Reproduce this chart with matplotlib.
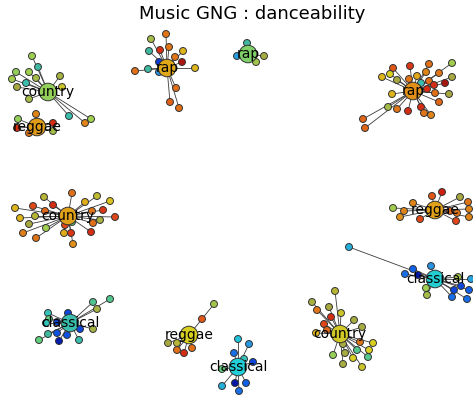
import matplotlib
matplotlib.use("Agg")
import matplotlib.pyplot as plt
from matplotlib.colors import LinearSegmentedColormap

# hub nodes of the growing neural gas, one per genre cluster
hub_labels = ["country", "reggae", "rap", "rap", "rap", "country",
              "reggae", "classical", "classical", "reggae", "classical", "country"]
hub_x = [48, 37, 167, 248, 413, 68, 435, 435, 70, 189, 238, 340]
hub_y = [92, 127, 68, 54, 91, 216, 210, 279, 323, 335, 367, 334]
hub_val = [0.55, 0.78, 0.76, 0.53, 0.80, 0.77, 0.77, 0.36, 0.42, 0.70, 0.35, 0.69]

# leaves: (x, y, danceability) and optional parent leaf index (default: hub)
country_top = [(32, 56, 0.56), (38, 67, 0.44), (16, 72, 0.55), (29, 72, 0.56), (12, 79, 0.57),
               (26, 83, 0.42), (36, 78, 0.60), (60, 76, 0.62), (17, 87, 0.64), (62, 87, 0.68),
               (29, 99, 0.60), (69, 116, 0.42), (85, 123, 0.82), (91, 119, 0.56)]
reggae_top = [(36, 114, 0.82), (18, 119, 0.55), (17, 128, 0.93), (29, 133, 0.84),
              (53, 123, 0.93), (53, 131, 0.60)]
rap_top = [(166, 34, 0.84), (151, 39, 0.60), (169, 47, 0.84), (149, 51, 0.44), (160, 50, 0.93),
           (183, 51, 0.74), (182, 62, 0.98), (175, 57, 0.84), (159, 62, 0.12), (159, 72, 0.25),
           (148, 69, 0.44), (135, 71, 0.85), (195, 68, 0.74), (176, 88, 0.85), (170, 102, 0.87),
           (179, 108, 0.85)]
rap_small = [(247, 43, 0.44), (237, 56, 0.27), (256, 62, 0.58), (264, 56, 0.63)]
rap_right = [(393, 68, 0.88), (410, 66, 0.92), (429, 64, 0.85), (452, 63, 0.57), (382, 77, 0.74),
             (390, 74, 0.70), (397, 80, 0.64), (409, 79, 0.84), (417, 76, 0.76), (426, 72, 0.82),
             (439, 73, 0.84), (452, 77, 0.64), (421, 83, 0.42), (429, 81, 0.85), (434, 85, 0.93),
             (445, 83, 0.98), (427, 89, 0.93), (435, 93, 0.85), (449, 94, 0.64), (392, 94, 0.74),
             (439, 102, 0.86), (388, 107, 0.60), (397, 109, 0.84), (408, 111, 0.93),
             (421, 107, 0.93), (424, 113, 0.84), (431, 115, 0.82), (363, 119, 0.86),
             (365, 128, 0.86)]
country_mid = [(72, 193, 0.85), (44, 197, 0.66), (97, 196, 0.67), (33, 206, 0.90), (53, 205, 0.93),
               (85, 202, 0.75), (110, 201, 0.72), (15, 208, 0.74), (45, 211, 0.86), (92, 211, 0.84),
               (103, 210, 0.92), (20, 218, 0.74), (35, 216, 0.66), (115, 217, 0.90), (29, 224, 0.64),
               (100, 220, 0.62), (93, 223, 0.85), (72, 222, 0.50), (65, 225, 0.90), (46, 228, 0.56),
               (91, 232, 0.93), (23, 233, 0.83), (36, 238, 0.84), (64, 233, 0.75), (71, 233, 0.92),
               (73, 244, 0.80)]
reggae_right = [(442, 192, 0.95), (432, 196, 0.88), (460, 197, 0.64), (413, 203, 0.82),
                (468, 202, 0.84), (393, 208, 0.57), (404, 211, 0.82), (469, 209, 0.82),
                (400, 217, 0.80), (420, 219, 0.90), (457, 213, 0.84), (456, 221, 0.90),
                (469, 217, 0.82), (450, 211, 0.86)]
classical_right = [(431, 266, 0.25), (413, 269, 0.18), (405, 274, 0.20), (418, 275, 0.05),
                   (458, 277, 0.58), (471, 279, 0.28), (426, 288, 0.56), (427, 295, 0.60),
                   (454, 290, 0.14), (461, 286, 0.14), (469, 290, 0.18), (452, 297, 0.20),
                   (467, 299, 0.20), (349, 247, 0.30)]
classical_left = [(93, 302, 0.47), (110, 299, 0.48), (97, 309, 0.62), (48, 313, 0.40),
                  (68, 313, 0.14), (49, 319, 0.50), (46, 323, 0.40), (57, 322, 0.14),
                  (93, 329, 0.62), (80, 329, 0.14), (57, 333, 0.16), (48, 334, 0.44),
                  (67, 335, 0.16), (79, 340, 0.42), (39, 340, 0.50), (59, 341, 0.06)]
reggae_bottom = [(202, 319, 0.88), (214, 304, 0.58, 0), (168, 343, 0.64), (177, 343, 0.66),
                 (177, 350, 0.85), (184, 353, 0.93), (192, 348, 0.85)]
classical_bottom = [(238, 339, 0.33), (249, 344, 0.26), (234, 353, 0.20), (244, 359, 0.40),
                    (253, 362, 0.14), (222, 369, 0.50), (235, 383, 0.05), (246, 383, 0.18),
                    (222, 386, 0.30), (239, 391, 0.20)]
country_bottom = [(335, 291, 0.66), (312, 302, 0.62), (317, 310, 0.84), (329, 307, 0.64),
                  (331, 317, 0.93), (341, 313, 0.68), (324, 324, 0.90), (327, 330, 0.86),
                  (316, 333, 0.74), (354, 320, 0.63), (362, 327, 0.63), (360, 342, 0.84),
                  (373, 343, 0.70), (343, 344, 0.63), (357, 350, 0.48), (369, 350, 0.70),
                  (333, 355, 0.55), (345, 353, 0.63), (368, 357, 0.48), (353, 358, 0.70),
                  (343, 364, 0.63), (362, 367, 0.68)]

leaf_groups = [country_top, reggae_top, rap_top, rap_small, rap_right, country_mid,
               reggae_right, classical_right, classical_left, reggae_bottom,
               classical_bottom, country_bottom]

cmap = LinearSegmentedColormap.from_list("dance", [
    (0.00, "#000080"), (0.10, "#0830d0"), (0.18, "#1060e8"), (0.25, "#2890e0"),
    (0.35, "#20d0d8"), (0.44, "#40b8a0"), (0.50, "#60d080"), (0.56, "#a0d050"),
    (0.64, "#a8a840"), (0.70, "#d8d020"), (0.76, "#e0a818"), (0.84, "#e07818"),
    (0.90, "#e04818"), (0.95, "#d02010"), (1.00, "#901010")])

fig = plt.figure(figsize=(4.73, 3.98), dpi=100)
ax = fig.add_axes([0, 0, 1, 1])
ax.set_xlim(0, 473)
ax.set_ylim(398, 0)
ax.axis("off")

lx, ly, lv = [], [], []
for hx, hy, group in zip(hub_x, hub_y, leaf_groups):
    for leaf in group:
        x, y, v = leaf[:3]
        if len(leaf) > 3:
            px, py = group[leaf[3]][:2]
        else:
            px, py = hx, hy
        ax.plot([px, x], [py, y], color="#3a3a3a", lw=0.6, zorder=1)
        lx.append(x)
        ly.append(y)
        lv.append(v)

ax.scatter(lx, ly, c=lv, cmap=cmap, vmin=0, vmax=1, s=25,
           edgecolors="#333333", linewidths=0.7, zorder=2)
ax.scatter(hub_x, hub_y, c=hub_val, cmap=cmap, vmin=0, vmax=1, s=160,
           edgecolors="#333333", linewidths=0.7, zorder=3)

for lab, x, y in zip(hub_labels, hub_x, hub_y):
    ax.text(x, y, lab, fontsize=10, ha="center", va="center", zorder=4)

fig.text(252 / 473, 1 - 14 / 398, "Music GNG : danceability", fontsize=13,
         ha="center", va="center")

fig.savefig("out.png", dpi=100)
